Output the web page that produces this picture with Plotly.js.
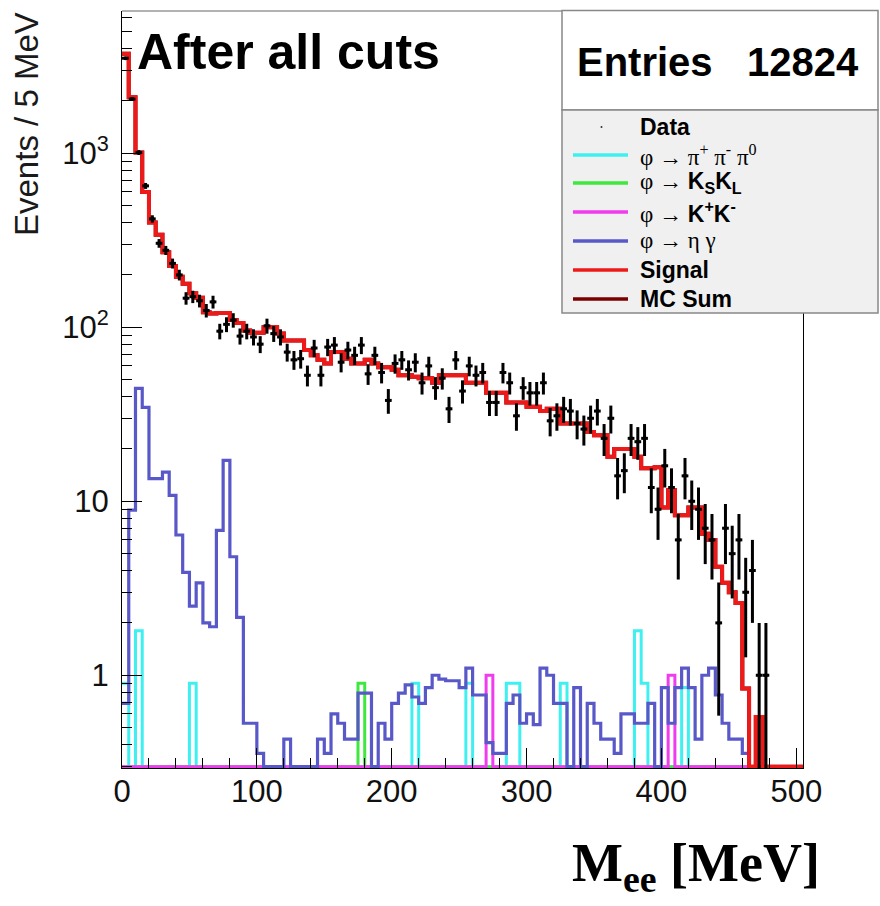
<!DOCTYPE html>
<html><head><meta charset="utf-8">
<script src="https://cdn.plot.ly/plotly-3.0.1.min.js"></script>
<style>html,body{margin:0;padding:0;background:#fff}#chart{width:880px;height:906px}</style>
</head><body><div id="chart"></div>
<script>
// ---- binning (5 MeV bins from 0 MeV) ----
const binStartMeV = 0;
const binWidthMeV = 5;

// ---- data counts per bin ----
const dataCounts = [
 3520, 2050, 1010, 650, 420, 304, 277, 233, 200, 147,
 150, 142, 125, 140, 95, 104, 110, 89, 95, 88,
 80, 102, 92, 88, 72, 65, 66, 53, 76, 53,
 77, 79, 63, 74, 69, 79, 54, 69, 55, 38,
 62, 65, 57, 63, 48, 60, 45, 51, 34, 65,
 43, 60, 53, 55, 37, 37, 55, 48, 31, 45,
 42, 42, 48, 29, 31, 34, 33, 28, 26, 30,
 33, 23, 30, 14, 15, 23, 22, 23, 12, 9,
 16, 12, 6, 14, 10, 9, 7, 6, 2, 7,
 5, 6, 3, 4, 1, 1, 0, 0, 0, 0,
 0
];

// ---- signal MC ----
const signalMC = [
 3740, 2100, 1010, 600, 400, 340, 270, 225, 195, 178,
 157, 148, 122, 120, 121, 121, 110, 106, 96, 93,
 93, 100, 100, 92, 84, 84, 84, 74, 69, 65,
 62, 72, 72, 66, 62, 62, 65, 62, 59, 59,
 57, 53, 53, 52, 51, 51, 48, 53, 53, 53,
 53, 48, 48, 48, 42, 42, 42, 37, 37, 37,
 35, 35, 33, 34, 34, 28, 28, 28, 28, 25,
 24, 24, 18, 20, 20, 20, 18, 15.5, 15.5, 15.7,
 9.2, 11.6, 8.3, 8.3, 9.2, 9.2, 6.5, 6.0, 4.2, 3.4,
 3.0, 2.6, 0.84, 0, 0.575, 0, 0, 0, 0, 0,
 0
];

// ---- MC sum ----
const mcSum = [
 3740, 2100, 1010, 600, 400, 340, 270, 225, 195, 178,
 157, 148, 122, 120, 121, 121, 110, 106, 96, 93,
 93, 100, 100, 92, 84, 84, 84, 74, 69, 65,
 62, 72, 72, 66, 62, 62, 65, 62, 59, 59,
 57, 53, 53, 52, 51, 51, 48, 53, 53, 53,
 53, 48, 48, 48, 42, 42, 42, 37, 37, 37,
 35, 35, 33, 34, 34, 28, 28, 28, 28, 25,
 24, 24, 18, 20, 20, 20, 18, 15.5, 15.5, 15.7,
 9.2, 11.6, 8.3, 8.3, 9.2, 9.2, 6.5, 6.0, 4.2, 3.4,
 3.0, 2.6, 0.84, 0, 0.575, 0, 0, 0, 0, 0,
 0
];

// ---- phi -> pi+ pi- pi0 ----
const bkgPi3 = [
 0.9, 0, 1.8, 0, 0, 0, 0, 0, 0, 0,
 0.9, 0, 0, 0, 0, 0, 0, 0, 0, 0,
 0, 0, 0, 0, 0, 0, 0, 0, 0, 0,
 0, 0, 0, 0, 0, 0, 0, 0, 0, 0,
 0, 0, 0, 0.9, 0, 0, 0, 0, 0, 0,
 0, 0.9, 0, 0, 0, 0, 0, 0.9, 0.9, 0,
 0, 0, 0, 0, 0, 0.9, 0, 0, 0, 0,
 0, 0, 0, 0, 0, 0, 1.8, 0.9, 0, 0,
 0, 0, 0, 0.85, 0, 0, 0, 0, 0, 0,
 0, 0, 0, 0, 0, 0, 0, 0, 0, 0,
 0
];

// ---- phi -> KS KL ----
const bkgKsKl = [
 0, 0, 0, 0, 0, 0, 0, 0, 0, 0,
 0, 0, 0, 0, 0, 0, 0, 0, 0, 0,
 0, 0, 0, 0, 0, 0, 0, 0, 0, 0,
 0, 0, 0, 0, 0, 0.9, 0, 0, 0, 0,
 0, 0, 0, 0, 0, 0, 0, 0, 0, 0,
 0, 0, 0, 0, 0, 0, 0, 0, 0, 0,
 0, 0, 0, 0, 0, 0, 0, 0, 0, 0,
 0, 0, 0, 0, 0, 0, 0, 0, 0, 0,
 0, 0, 0, 0, 0, 0, 0, 0, 0, 0,
 0, 0, 0, 0, 0, 0, 0, 0, 0, 0,
 0
];

// ---- phi -> K+ K- ----
const bkgKK = [
 0, 0, 0, 0, 0, 0, 0, 0, 0, 0,
 0, 0, 0, 0, 0, 0, 0, 0, 0, 0,
 0, 0, 0, 0, 0, 0, 0, 0, 0, 0,
 0, 0, 0, 0, 0, 0, 0, 0, 0, 0,
 0, 0, 0, 0, 0, 0, 0, 0, 0, 0,
 0, 0, 0, 0, 1.0, 0, 0, 0, 0, 0,
 0, 0, 0, 0, 0, 0, 0, 0, 0, 0,
 0, 0, 0, 0, 0, 0, 0, 0, 0, 0,
 0, 1.0, 0, 0, 0, 0, 0, 0, 0, 0,
 0, 0, 0, 0, 0, 0, 0, 0, 0, 0,
 0
];

// ---- phi -> eta gamma ----
const bkgEtaGamma = [
 0.69, 8.9, 44.6, 34.7, 13.5, 13.5, 14.7, 10.8, 6.4, 3.9,
 2.5, 3.4, 2.0, 1.9, 6.8, 17.2, 4.8, 2.15, 0.53, 0.53,
 0.356, 0, 0, 0, 0.43, 0, 0, 0, 0, 0.43,
 0.356, 0.6, 0.53, 0.43, 0.43, 0.79, 0.79, 0, 0.53, 0.43,
 0.69, 0.79, 0.88, 0.75, 0.69, 0.85, 1.0, 0.95, 0.93, 0.93,
 0.85, 1.1, 0.77, 0.77, 0.41, 0.356, 0.356, 0.69, 0.77, 0.53,
 0.6, 0.52, 1.1, 1.0, 0.69, 0.69, 0, 0.85, 0, 0.69,
 0.53, 0.43, 0.43, 0.356, 0.6, 0.6, 0.53, 0.53, 0.69, 0,
 0.85, 0.53, 0.85, 1.1, 0.85, 0.43, 1.0, 1.1, 0.77, 0.53,
 0.43, 0.43, 0.356, 0, 0, 0, 0, 0, 0, 0,
 0
];

const entriesValue = '12824';
const xTickVals = [0, 100, 200, 300, 400, 500];
const yTickVals = [1, 10, 100, 1000];
const yTickText = ['1', '10', '10<sup>2</sup>', '10<sup>3</sup>'];

// ---- layout geometry ----
const W = 880, H = 906;
const M = {l: 122, r: 77, t: 11, b: 138};
const PW = W - M.l - M.r, PH = H - M.t - M.b;
const yLogRange = [-0.533, 3.818];
const xRange = [0, 505];
const px = v => (v - M.l) / PW;
const py = v => (H - M.b - v) / PH;

const binCenters = dataCounts.map((_, i) => binStartMeV + (i + 0.5) * binWidthMeV);
const floorVal = Math.pow(10, yLogRange[0] + 1.3 * (yLogRange[1] - yLogRange[0]) / PH);

function stepTrace(vals, color, width, name) {
  const xs = [], ys = [];
  for (let i = 0; i < vals.length; i++) {
    xs.push(binStartMeV + i * binWidthMeV);
    ys.push(vals[i] > 0 ? vals[i] : floorVal);
  }
  xs.push(binStartMeV + vals.length * binWidthMeV);
  ys.push(ys[ys.length - 1]);
  return {type: 'scatter', mode: 'lines', x: xs, y: ys, name: name,
    line: {shape: 'hv', color: color, width: width}, showlegend: false, hoverinfo: 'skip'};
}

const colors = {pi3: '#3ff0f0', kskl: '#3ee83e', kk: '#ee3cee', eg: '#5858c8', signal: '#ee1a1a', sum: '#7a0000'};

const dx = [], dy = [], de = [];
dataCounts.forEach((c, i) => { if (c > 0) { dx.push(binCenters[i]); dy.push(c); de.push(Math.sqrt(c)); } });

const traces = [
  stepTrace(bkgPi3, colors.pi3, 3, 'φ → π+π-π0'),
  stepTrace(bkgKsKl, colors.kskl, 3, 'φ → KSKL'),
  stepTrace(bkgKK, colors.kk, 3, 'φ → K+K-'),
  stepTrace(bkgEtaGamma, colors.eg, 3.2, 'φ → ηγ'),
  stepTrace(mcSum, colors.sum, 4, 'MC Sum'),
  stepTrace(signalMC, colors.signal, 4, 'Signal'),
  {type: 'scatter', mode: 'markers', x: dx, y: dy, name: 'Data', showlegend: false,
   marker: {color: '#000', size: 4},
   error_y: {type: 'data', array: de, visible: true, color: '#000', thickness: 3, width: 0},
   error_x: {type: 'constant', value: binWidthMeV / 2, visible: true, color: '#000', thickness: 3, width: 0}}
];

// minor tick positions
const yMinor = [];
for (let d = -1; d <= 3; d++) for (let k = 2; k <= 9; k++) yMinor.push(k * Math.pow(10, d));

const sans = '"Liberation Sans", Arial, sans-serif';
const serif = '"Liberation Serif", "Times New Roman", serif';
const tickFont = {family: sans, size: 31, color: '#111'};

const serifCss = "font-family:'Liberation Serif','Times New Roman',serif";
const legendRows = [
  {y: 127, text: '<b>Data</b>', color: null},
  {y: 155, text: '<span style="' + serifCss + '">φ → π<sup>+</sup> π<sup>-</sup> π<sup>0</sup></span>', color: colors.pi3},
  {y: 183, text: '<span style="' + serifCss + '">φ → </span><b>K<sub>S</sub>K<sub>L</sub></b>', color: colors.kskl},
  {y: 212, text: '<span style="' + serifCss + '">φ → </span><b>K<sup>+</sup>K<sup>-</sup></b>', color: colors.kk},
  {y: 241, text: '<span style="' + serifCss + '">φ → η γ</span>', color: colors.eg},
  {y: 270, text: '<b>Signal</b>', color: colors.signal},
  {y: 299, text: '<b>MC Sum</b>', color: colors.sum}
];

const shapes = [
  {type: 'line', xref: 'paper', yref: 'paper', x0: 0, x1: 1, y0: 1, y1: 1, line: {color: '#999', width: 1.5}},
  {type: 'rect', xref: 'paper', yref: 'paper', x0: px(562), x1: px(878), y0: py(110), y1: py(10.5),
   fillcolor: '#ffffff', line: {color: '#888', width: 1.5}, layer: 'above'},
  {type: 'rect', xref: 'paper', yref: 'paper', x0: px(562), x1: px(878), y0: py(313), y1: py(110),
   fillcolor: '#f0f0f0', line: {color: '#888', width: 1.5}, layer: 'above'},
  {type: 'circle', xref: 'paper', yref: 'paper', x0: px(600.5), x1: px(602.5), y0: py(128), y1: py(126),
   fillcolor: '#333', line: {width: 0}, layer: 'above'}
];
legendRows.forEach(r => {
  if (r.color) shapes.push({type: 'line', xref: 'paper', yref: 'paper', x0: px(573), x1: px(628), y0: py(r.y), y1: py(r.y),
    line: {color: r.color, width: 3.5}, layer: 'above'});
});

const annotations = [
  {xref: 'paper', yref: 'paper', x: px(135), y: py(52), xanchor: 'left', yanchor: 'middle', showarrow: false,
   text: '<b>After all cuts</b>', font: {family: sans, size: 50, color: '#000'}},
  {xref: 'paper', yref: 'paper', x: px(575), y: py(62), xanchor: 'left', yanchor: 'middle', showarrow: false,
   text: '<b>Entries</b>', font: {family: sans, size: 40, color: '#000'}},
  {xref: 'paper', yref: 'paper', x: px(861), y: py(62), xanchor: 'right', yanchor: 'middle', showarrow: false,
   text: '<b>' + entriesValue + '</b>', font: {family: sans, size: 40, color: '#000'}},
  {xref: 'paper', yref: 'paper', x: px(26), y: py(10), xanchor: 'center', yanchor: 'top', showarrow: false, textangle: -90,
   text: 'Events / 5 MeV', font: {family: sans, size: 33, color: '#1a1a1a'}},
  {xref: 'paper', yref: 'paper', x: px(822), y: py(866), xanchor: 'right', yanchor: 'middle', showarrow: false,
   text: '<b>M<sub>ee</sub> [MeV]</b>', font: {family: serif, size: 54, color: '#000'}}
];
legendRows.forEach(r => annotations.push({xref: 'paper', yref: 'paper', x: px(638), y: py(r.y), xanchor: 'left', yanchor: 'middle',
  showarrow: false, text: r.text, font: {family: sans, size: 23, color: '#000'}}));

const layout = {
  width: W, height: H, margin: M, paper_bgcolor: '#fff', plot_bgcolor: '#fff', showlegend: false,
  xaxis: {range: xRange, tickmode: 'array', tickvals: xTickVals, ticks: 'inside', ticklen: 20, tickwidth: 1, tickcolor: '#000',
    showline: true, linecolor: '#000', linewidth: 1, mirror: false, showgrid: false, zeroline: false,
    tickfont: tickFont, ticklabelstandoff: -4,
    minor: {dtick: 20, tick0: 0, ticks: 'inside', ticklen: 10, tickcolor: '#000', tickwidth: 1, showgrid: false}},
  yaxis: {type: 'log', range: yLogRange, tickmode: 'array', tickvals: yTickVals, ticktext: yTickText, ticks: 'inside', ticklen: 20,
    tickwidth: 1, tickcolor: '#000', showline: true, linecolor: '#000', linewidth: 1, mirror: true, showgrid: false, zeroline: false,
    tickfont: tickFont, ticklabelstandoff: 6,
    minor: {tickmode: 'array', tickvals: yMinor, ticks: 'inside', ticklen: 10, tickcolor: '#000', tickwidth: 1, showgrid: false}},
  shapes: shapes, annotations: annotations
};

Plotly.newPlot('chart', traces, layout, {staticPlot: true, displayModeBar: false});
</script></body></html>
